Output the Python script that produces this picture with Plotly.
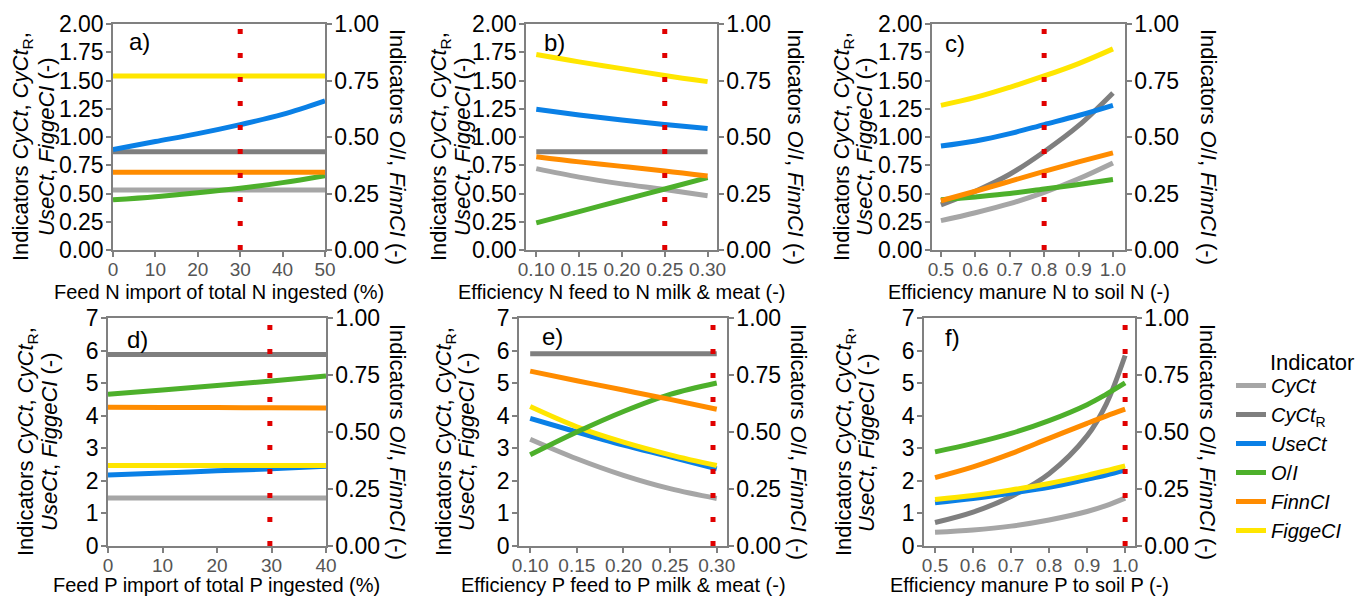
import plotly.graph_objects as go

W, H = 1360, 598
FONT = "Liberation Sans, Arial, sans-serif"

# ---------------- data ----------------
names = ["CyCt", "CyCtR", "UseCt", "OI", "FinnCI", "FiggeCI"]
legend_labels = ["<i>CyCt</i>", "<i>CyCt</i><sub>R</sub>", "<i>UseCt</i>",
                 "<i>O</i>/<i>I</i>", "<i>FinnCI</i>", "<i>FiggeCI</i>"]
colors = ["#A6A6A6", "#7F7F7F", "#0A80E6", "#4DB02B", "#FF8C00", "#FFE600"]
right_axis_series = ["OI", "FinnCI"]

# a) Feed N import of total N ingested (%)
a_x = [0, 10, 20, 30, 40, 50]
a_cyct = [0.53, 0.53, 0.53, 0.53, 0.53, 0.53]
a_cyctr = [0.87, 0.87, 0.87, 0.87, 0.87, 0.87]
a_usect = [0.89, 0.96, 1.03, 1.11, 1.20, 1.32]
a_oi = [0.222, 0.236, 0.253, 0.273, 0.298, 0.329]
a_finn = [0.344, 0.344, 0.344, 0.344, 0.344, 0.344]
a_figge = [1.54, 1.54, 1.54, 1.54, 1.54, 1.54]

# b) Efficiency N feed to N milk & meat (-)
b_x = [0.10, 0.15, 0.20, 0.25, 0.30]
b_cyct = [0.72, 0.645, 0.585, 0.535, 0.48]
b_cyctr = [0.87, 0.87, 0.87, 0.87, 0.87]
b_usect = [1.245, 1.195, 1.15, 1.11, 1.075]
b_oi = [0.12, 0.17, 0.22, 0.27, 0.32]
b_finn = [0.413, 0.39, 0.37, 0.35, 0.327]
b_figge = [1.73, 1.665, 1.605, 1.545, 1.49]

# c) Efficiency manure N to soil N (-)
c_x = [0.5, 0.6, 0.7, 0.8, 0.9, 1.0]
c_cyct = [0.26, 0.33, 0.41, 0.51, 0.63, 0.77]
c_cyctr = [0.40, 0.52, 0.67, 0.87, 1.10, 1.39]
c_usect = [0.92, 0.965, 1.03, 1.11, 1.19, 1.28]
c_oi = [0.222, 0.235, 0.25, 0.27, 0.29, 0.312]
c_finn = [0.218, 0.26, 0.304, 0.348, 0.39, 0.43]
c_figge = [1.28, 1.35, 1.44, 1.54, 1.65, 1.78]

# d) Feed P import of total P ingested (%)
d_x = [0, 10, 20, 30, 40]
d_cyct = [1.47, 1.47, 1.47, 1.47, 1.47]
d_cyctr = [5.88, 5.88, 5.88, 5.88, 5.88]
d_usect = [2.18, 2.24, 2.31, 2.37, 2.45]
d_oi = [0.665, 0.684, 0.704, 0.724, 0.746]
d_finn = [0.609, 0.608, 0.607, 0.606, 0.605]
d_figge = [2.47, 2.47, 2.47, 2.47, 2.47]

# e) Efficiency P feed to P milk & meat (-)
e_x = [0.10, 0.15, 0.20, 0.25, 0.30]
e_cyct = [3.28, 2.68, 2.17, 1.76, 1.46]
e_cyctr = [5.9, 5.9, 5.9, 5.9, 5.9]
e_usect = [3.92, 3.50, 3.10, 2.74, 2.37]
e_oi = [0.40, 0.50, 0.59, 0.665, 0.715]
e_finn = [0.767, 0.725, 0.684, 0.643, 0.60]
e_figge = [4.28, 3.66, 3.19, 2.80, 2.47]

# f) Efficiency manure P to soil P (-)
f_x = [0.5, 0.6, 0.7, 0.8, 0.9, 0.95, 1.0]
f_cyct = [0.42, 0.49, 0.61, 0.80, 1.06, 1.24, 1.47]
f_cyctr = [0.72, 1.04, 1.52, 2.22, 3.38, 4.35, 5.85]
f_usect = [1.33, 1.46, 1.62, 1.80, 2.05, 2.18, 2.33]
f_oi = [0.413, 0.45, 0.494, 0.55, 0.62, 0.665, 0.715]
f_finn = [0.30, 0.347, 0.405, 0.472, 0.538, 0.57, 0.60]
f_figge = [1.43, 1.55, 1.72, 1.92, 2.17, 2.31, 2.46]

panel_labels = ["a)", "b)", "c)", "d)", "e)", "f)"]
x_titles = ["Feed N import of total N ingested (%)",
            "Efficiency N feed to N milk & meat (-)",
            "Efficiency manure N to soil N (-)",
            "Feed P import of total P ingested (%)",
            "Efficiency P feed to P milk & meat (-)",
            "Efficiency manure P to soil P (-)"]
reference_x = [30, 0.25, 0.8, 29.7, 0.296, 1.0]

panel_data = [
    (a_x, [a_cyct, a_cyctr, a_usect, a_oi, a_finn, a_figge]),
    (b_x, [b_cyct, b_cyctr, b_usect, b_oi, b_finn, b_figge]),
    (c_x, [c_cyct, c_cyctr, c_usect, c_oi, c_finn, c_figge]),
    (d_x, [d_cyct, d_cyctr, d_usect, d_oi, d_finn, d_figge]),
    (e_x, [e_cyct, e_cyctr, e_usect, e_oi, e_finn, e_figge]),
    (f_x, [f_cyct, f_cyctr, f_usect, f_oi, f_finn, f_figge]),
]

# ---------------- layout geometry (pixels) ----------------
boxes = [(113, 325, 24, 250), (526, 717, 24, 250), (932, 1125, 24, 250),
         (108, 326, 318, 546), (519, 727, 318, 546), (924, 1135, 318, 546)]
x_ranges = [[0, 50], [0.088, 0.311], [0.474, 1.035],
            [0, 40], [0.088, 0.311], [0.471, 1.026]]
x_ticks = [dict(tick0=0, dtick=10, tickformat="d"),
           dict(tick0=0.10, dtick=0.05, tickformat=".2f"),
           dict(tick0=0.5, dtick=0.1, tickformat=".1f"),
           dict(tick0=0, dtick=10, tickformat="d"),
           dict(tick0=0.10, dtick=0.05, tickformat=".2f"),
           dict(tick0=0.5, dtick=0.1, tickformat=".1f")]
left_ranges = [[0, 2], [0, 2], [0, 2], [0, 7], [0, 7], [0, 7]]
left_ticks = [dict(dtick=0.25, tickformat=".2f")] * 3 + [dict(dtick=1, tickformat="d")] * 3
left_title_x = [(22, 47), (440, 463), (843, 865), (27, 50), (445, 467), (845, 867)]
right_title_x = [397, 795, 1208, 397, 798, 1207]
label_offset = [(14, 18), (16, 19), (11, 20), (17, 21), (21, 18), (19, 19)]


def px(x):
    return x / W


def py(y):
    return 1 - y / H


fig = go.Figure()
layout = dict(
    template="none",
    width=W, height=H, margin=dict(l=0, r=0, t=0, b=0, autoexpand=False),
    paper_bgcolor="white", plot_bgcolor="white",
    font=dict(family=FONT, color="black"),
    showlegend=True,
    legend=dict(x=px(1231), y=py(366), xanchor="left", yanchor="top",
                font=dict(family=FONT, size=20, color="black"),
                tracegroupgap=0, bgcolor="rgba(0,0,0,0)", borderwidth=0),
)
annotations = []

AX = "#808080"
for i, ((xv, series), box) in enumerate(zip(panel_data, boxes)):
    n = i + 1
    xa = "x" if n == 1 else f"x{n}"
    yl = "y" if n == 1 else f"y{2 * n - 1}"
    yr = f"y{2 * n}"
    l, r, t, b = box
    layout["xaxis" if n == 1 else f"xaxis{n}"] = dict(
        domain=[px(l), px(r)], anchor=yl, range=x_ranges[i], automargin=False,
        showline=True, linecolor=AX, linewidth=1.5, mirror=True,
        ticks="outside", ticklen=5, tickcolor=AX, tickwidth=1.5,
        ticklabelstandoff=-4,
        tickangle=0, showgrid=False, zeroline=False,
        tickfont=dict(family=FONT, size=19, color="#555555"), **x_ticks[i])
    layout["yaxis" if n == 1 else f"yaxis{2 * n - 1}"] = dict(
        domain=[py(b), py(t)], anchor=xa, range=left_ranges[i], tick0=0, automargin=False,
        showline=True, linecolor=AX, linewidth=1.5,
        ticks="outside", ticklen=5, tickcolor=AX, tickwidth=1.5,
        ticklabelstandoff=-2,
        showgrid=False, zeroline=False,
        tickfont=dict(family=FONT, size=23, color="black"), **left_ticks[i])
    layout[f"yaxis{2 * n}"] = dict(
        overlaying=yl, anchor=xa, side="right", range=[0, 1], automargin=False,
        tick0=0, dtick=0.25, tickformat=".2f",
        showline=True, linecolor=AX, linewidth=1.5,
        ticks="outside", ticklen=5, tickcolor=AX, tickwidth=1.5,
        ticklabelstandoff=-2,
        showgrid=False, zeroline=False,
        tickfont=dict(family=FONT, size=23, color="black"))

    for k, name in enumerate(names):
        on_right = name in right_axis_series
        fig.add_trace(go.Scatter(
            x=xv, y=series[k], mode="lines", name=legend_labels[k],
            legendgroup=name, showlegend=(n == 1),
            line=dict(color=colors[k], width=5, shape="spline", smoothing=1),
            xaxis=xa, yaxis=yr if on_right else yl, hoverinfo="skip"))

    # red dotted reference line
    fig.add_trace(go.Scatter(
        x=[reference_x[i], reference_x[i]], y=[0, 1], mode="lines",
        showlegend=False, hoverinfo="skip",
        line=dict(color="#E00000", width=5, dash="5px,19px"),
        xaxis=xa, yaxis=yr))

    cy = (t + b) / 2 + 10
    annotations.append(dict(text=panel_labels[i], x=px(l + label_offset[i][0]),
                            y=py(t + label_offset[i][1]), xref="paper", yref="paper",
                            xanchor="left", yanchor="middle", showarrow=False,
                            font=dict(family=FONT, size=24, color="black")))
    annotations.append(dict(text="Indicators <i>CyCt</i>, <i>CyCt</i><sub>R</sub>,",
                            x=px(left_title_x[i][0]), y=py(cy), xref="paper", yref="paper",
                            xanchor="center", yanchor="middle", textangle=-90, showarrow=False,
                            font=dict(family=FONT, size=22, color="black")))
    annotations.append(dict(text="<i>UseCt</i>, <i>FiggeCI</i> (-)",
                            x=px(left_title_x[i][1]), y=py(cy), xref="paper", yref="paper",
                            xanchor="center", yanchor="middle", textangle=-90, showarrow=False,
                            font=dict(family=FONT, size=22, color="black")))
    annotations.append(dict(text="Indicators <i>O</i>/<i>I</i>, <i>FinnCI</i> (-)",
                            x=px(right_title_x[i]), y=py(cy), xref="paper", yref="paper",
                            xanchor="center", yanchor="middle", textangle=90, showarrow=False,
                            font=dict(family=FONT, size=22, color="black")))
    annotations.append(dict(text=x_titles[i], x=px((l + r) / 2),
                            y=py(292 if n <= 3 else 585), xref="paper", yref="paper",
                            xanchor="center", yanchor="middle", showarrow=False,
                            font=dict(family=FONT, size=20, color="black")))

annotations.append(dict(text="Indicator", x=px(1268), y=py(362), xref="paper", yref="paper",
                        xanchor="left", yanchor="middle", showarrow=False,
                        font=dict(family=FONT, size=22, color="black")))

layout["annotations"] = annotations
fig.update_layout(**layout)
fig.write_html("out.html", config={"displayModeBar": False},
               post_script="document.body.style.margin='0px';document.body.style.overflow='hidden';")
